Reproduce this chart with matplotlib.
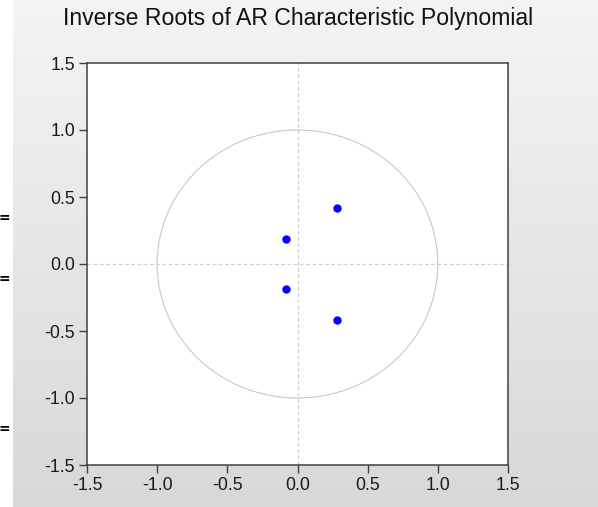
import numpy as np
import matplotlib
matplotlib.use("Agg")
import matplotlib.pyplot as plt

# Inverse roots (real, imaginary)
root_re = [0.28, -0.085, -0.085, 0.28]
root_im = [0.415, 0.185, -0.185, -0.415]
ticks = [-1.5, -1.0, -0.5, 0.0, 0.5, 1.0, 1.5]
tick_labels = ["-1.5", "-1.0", "-0.5", "0.0", "0.5", "1.0", "1.5"]
title = "Inverse Roots of AR Characteristic Polynomial"

W, H = 598, 507
fig = plt.figure(figsize=(W / 100, H / 100), dpi=100)
fig.patch.set_facecolor("white")
plt.rcParams["font.family"] = ["Liberation Sans", "DejaVu Sans"]

# gradient background panel
bg = fig.add_axes([13 / W, 0, 1 - 13 / W, 1], zorder=0)
grad = np.linspace(0, 1, 256).reshape(-1, 1)
top_c = np.array([0xF4, 0xF4, 0xF4]) / 255
bot_c = np.array([0xD8, 0xD8, 0xD8]) / 255
img = top_c[None, None, :] * (1 - grad[:, :, None]) + bot_c[None, None, :] * grad[:, :, None]
bg.imshow(img, aspect="auto", extent=[0, 1, 0, 1])
bg.set_axis_off()

# left edge marks
for yy in [218, 279, 429]:
    fig.text(-1 / W, 1 - yy / H, "=", fontsize=10, fontweight="bold", color="black",
             ha="left", va="center", family="DejaVu Sans")

ax = fig.add_axes([87 / W, (H - 465) / H, (508 - 87) / W, (465 - 63) / H], zorder=1)
ax.set_facecolor("white")

theta = np.linspace(0, 2 * np.pi, 400)
ax.plot(np.cos(theta), np.sin(theta), color="#c8c8c8", lw=0.8, zorder=2)
ax.axhline(0, color="#d0d0d0", lw=0.9, ls=(0, (3, 2)), zorder=1)
ax.axvline(0, color="#d0d0d0", lw=0.9, ls=(0, (3, 2)), zorder=1)
ax.plot(root_re, root_im, "o", color="#0000ff", markersize=5, zorder=3)

ax.set_xlim(-1.5, 1.5)
ax.set_ylim(-1.5, 1.5)
ax.set_xticks(ticks)
ax.set_xticklabels(tick_labels)
ax.set_yticks(ticks)
ax.set_yticklabels(tick_labels)
ax.tick_params(direction="out", length=6, width=1.0, color="#404040",
               labelsize=12.8, labelcolor="#1a1a1a", pad=2.5)
for s in ax.spines.values():
    s.set_color("#404040")
    s.set_linewidth(1.1)

fig.text(298 / W, 1 - 18 / H, title, fontsize=16.6, color="#111111", ha="center", va="center")

fig.savefig("out.png", dpi=100, facecolor=fig.get_facecolor())
